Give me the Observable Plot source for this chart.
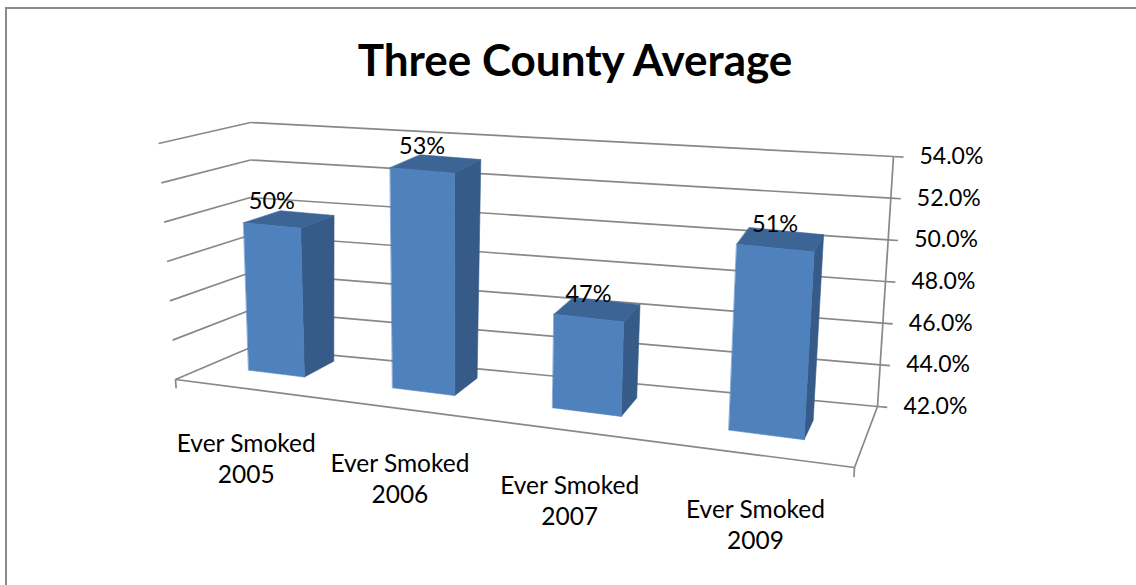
<!DOCTYPE html>
<html><head><meta charset="utf-8">
<script src="https://cdn.jsdelivr.net/npm/d3@7"></script>
<script src="https://cdn.jsdelivr.net/npm/@observablehq/plot@0.6"></script>
<style>
html,body{margin:0;padding:0;background:#fff;}
#wrap{position:relative;width:1136px;height:585px;overflow:hidden;background:#fff;}
#frame{position:absolute;left:5px;top:7px;width:1300px;height:800px;border-left:2px solid #8a8a8a;border-top:2px solid #8a8a8a;}
#title{position:absolute;left:0;width:1150px;top:37px;text-align:center;font-family:Lato,sans-serif;font-weight:bold;font-size:44px;line-height:1;color:#000;}
#chart{position:absolute;left:0;top:0;}
</style></head><body>
<div id="wrap"><div id="frame"></div><div id="title">Three County Average</div><div id="chart"></div></div>
<script>
// ---- data ----
const categories = ["Ever Smoked\n2005", "Ever Smoked\n2006", "Ever Smoked\n2007", "Ever Smoked\n2009"];
const values = [49.6, 53.1, 46.6, 50.9];          // percent
const axisTicks = [42, 44, 46, 48, 50, 52, 54];   // right axis ticks (percent)
const axisDomain = [42, 54];

(function () {
// ---- 3D box projection (screen corners of the floor and top planes) ----
const box = {
  floor: {fl: [175, 379], fr: [854, 467], bl: [250, 347], br: [877, 406]},
  roof:  {fl: [158, 143], fr: [870, 209], bl: [250, 122], br: [893, 156]}
};
const uScale = d3.scaleBand().domain(categories).range([0, 1]);
const vScale = d3.scaleLinear().domain(axisDomain).range([0, 1]);
const warpU = u => u + 0.19 * (u * u - u);            // horizontal perspective
const lerp = (a, b, t) => a + (b - a) * t;
const bil = (c, u, z, k) => lerp(lerp(c.fl[k], c.fr[k], u), lerp(c.bl[k], c.br[k], u), z);
function P(u, z, v) {
  const su = warpU(u), t = vScale(v);
  return [lerp(bil(box.floor, su, z, 0), bil(box.roof, su, z, 0), t),
          lerp(bil(box.floor, su, z, 1), bil(box.roof, su, z, 1), t)];
}
// depth placement of the columns (front/back face) along the row
const zFront = u => 0.443 - 0.11 * warpU(u);
const zBack  = u => 0.90 - 0.25 * warpU(u);

const rows = categories.map((c, i) => ({category: c, value: values[i]}));
const bw = uScale.bandwidth();

const link = (a, b) => ({x1: a[0], y1: a[1], x2: b[0], y2: b[1]});
const sideGrid = axisTicks.map(v => link(P(0, 0, v), P(0, 1, v)));
const backGrid = axisTicks.map(v => link(P(0, 1, v), P(1, 1, v)));
const lo = axisDomain[0], hi = axisDomain[1];
const frameLines = [
  link(P(0, 0, lo), P(1, 0, lo)),
  link(P(1, 0, lo), P(1, 1, lo)),
  link(P(1, 1, lo), P(1, 1, hi)),
  link(P(0, 0, lo), P(0, 0, lo - 0.45)),
  link(P(1, 0, lo), P(1, 0, lo - 0.45))
];
const valueTicks = axisTicks.map(v => link(P(1, 1, v), P(1.013, 1, v)));

const frontFace = [], sideFace = [], topFace = [];
rows.forEach((d, i) => {
  const uc = uScale(d.category) + bw / 2, u0 = uc - bw * 0.2, u1 = uc + bw * 0.2;
  const v = d.value;
  const pts = (arr, face) => arr.forEach(p => face.push({bar: i, x: p[0], y: p[1]}));
  pts([P(u0, zFront(u0), lo), P(u1, zFront(u1), lo), P(u1, zFront(u1), v), P(u0, zFront(u0), v)], frontFace);
  pts([P(u1, zFront(u1), lo), P(u1, zBack(u1), lo), P(u1, zBack(u1), v), P(u1, zFront(u1), v)], sideFace);
  pts([P(u0, zFront(u0), v), P(u1, zFront(u1), v), P(u1, zBack(u1), v), P(u0, zBack(u0), v)], topFace);
});
const barLabels = rows.map(d => {
  const uc = uScale(d.category) + bw / 2, p = P(uc, zFront(uc), d.value);
  return {x: p[0], y: p[1], text: d3.format(".0%")(d.value / 100)};
});
const catLabels = rows.map(d => {
  const uc = uScale(d.category) + bw / 2, p = P(uc, 0, lo);
  return {x: p[0], y: p[1], text: d.category};
});
const axisLabels = axisTicks.map(v => {
  const p = P(1, 1, v);
  return {x: p[0], y: p[1], text: d3.format(".1%")(v / 100)};
});

const grid = {stroke: "#888888", strokeWidth: 1.7};
const lk = {x1: "x1", y1: "y1", x2: "x2", y2: "y2"};
const chart = Plot.plot({
  width: 1136, height: 585, margin: 0,
  x: {type: "identity", axis: null},
  y: {type: "identity", axis: null},
  style: {fontFamily: "Lato, sans-serif", color: "#000", background: "transparent"},
  marks: [
    Plot.link(sideGrid, {...lk, ...grid}),
    Plot.link(backGrid, {...lk, ...grid}),
    Plot.link(frameLines, {...lk, ...grid}),
    Plot.link(valueTicks, {...lk, ...grid}),
    Plot.line(sideFace, {x: "x", y: "y", z: "bar", curve: "linear-closed", fill: "#375b88", stroke: "#375b88", strokeWidth: 0.6}),
    Plot.line(topFace, {x: "x", y: "y", z: "bar", curve: "linear-closed", fill: "#3c6595", stroke: "#3c6595", strokeWidth: 0.6}),
    Plot.line(frontFace, {x: "x", y: "y", z: "bar", curve: "linear-closed", fill: "#4f81bd", stroke: "#4f81bd", strokeWidth: 0.6}),
    Plot.text(barLabels, {x: "x", y: "y", text: "text", dy: -24, fontSize: 23.5, fill: "#000"}),
    Plot.text(catLabels, {x: "x", y: "y", text: "text", dy: 69, fontSize: 24.5, lineHeight: 1.27, fill: "#000"}),
    Plot.text(axisLabels, {x: "x", y: "y", text: "text", dx: 26, textAnchor: "start", fontSize: 23, fill: "#000"})
  ]
});
document.getElementById("chart").appendChild(chart);
})();
</script>
</body></html>
